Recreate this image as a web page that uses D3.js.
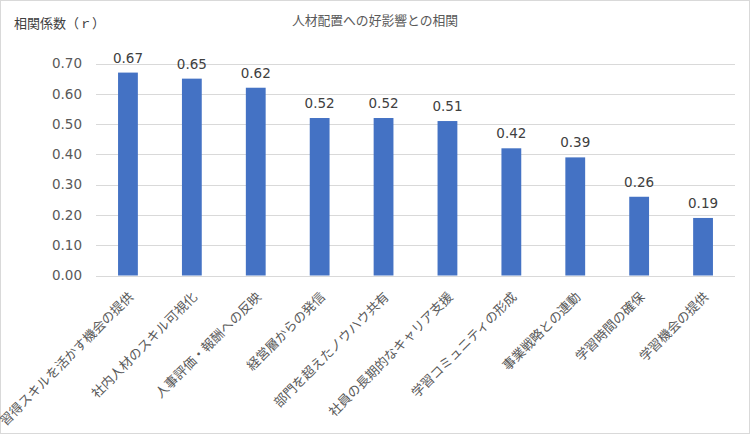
<!DOCTYPE html>
<html><head><meta charset="utf-8">
<script src="https://cdn.jsdelivr.net/npm/d3@7"></script>
<style>body{margin:0;background:#fff}svg{display:block}</style>
</head><body>
<script>
const categories = ["習得スキルを活かす機会の提供","社内人材のスキル可視化","人事評価・報酬への反映","経営層からの発信","部門を超えたノウハウ共有","社員の長期的なキャリア支援","学習コミュニティの形成","事業戦略との連動","学習時間の確保","学習機会の提供"];
const values = [0.67, 0.65, 0.62, 0.52, 0.52, 0.51, 0.42, 0.39, 0.26, 0.19];
const yTicks = [0, 0.1, 0.2, 0.3, 0.4, 0.5, 0.6, 0.7];
const title = "人材配置への好影響との相関";
const yTitle = "相関係数（ｒ）";

const W = 750, H = 434;
const font = "'Noto Sans CJK JP','Noto Sans',sans-serif";
const numFont = "'DejaVu Sans','Noto Sans',sans-serif";
const svg = d3.select("body").append("svg").attr("width", W).attr("height", H);
svg.append("rect").attr("x",0.5).attr("y",0.5).attr("width",W-1).attr("height",H-1)
  .attr("fill","#fff").attr("stroke","#d9d9d9");

const x = d3.scaleBand().domain(categories).range([96, 735]).paddingInner(0.69).paddingOuter(0.345);
const y = d3.scaleLinear().domain([0, 0.7]).range([275.5, 63.5]);

// gridlines
svg.append("g").selectAll("line").data(yTicks).join("line")
  .attr("x1", 96).attr("x2", 735)
  .attr("y1", d => Math.round(y(d)) + 0.5).attr("y2", d => Math.round(y(d)) + 0.5)
  .attr("stroke", "#d9d9d9").attr("stroke-width", 1);

// y axis labels
const yAxis = d3.axisLeft(y).tickValues(yTicks).tickFormat(d3.format(".2f")).tickSize(0).tickPadding(0);
const ya = svg.append("g").attr("transform", "translate(82,0)").call(yAxis);
ya.select(".domain").remove();
ya.selectAll("text").attr("font-family", numFont).attr("font-size", 13.5).attr("fill", "#595959");

// bars
svg.append("g").selectAll("rect").data(values).join("rect")
  .attr("x", (d,i) => x(categories[i])).attr("width", x.bandwidth())
  .attr("y", d => y(d)).attr("height", d => y(0) - y(d))
  .attr("fill", "#4472c4");

// value labels
svg.append("g").selectAll("text").data(values).join("text")
  .attr("x", (d,i) => x(categories[i]) + x.bandwidth()/2)
  .attr("y", d => y(d) - 10)
  .attr("text-anchor", "middle")
  .attr("font-family", numFont).attr("font-size", 13.5).attr("fill", "#404040")
  .text(d => d3.format(".2f")(d));

// x labels
const xAxis = d3.axisBottom(x).tickSize(0).tickPadding(0);
const xa = svg.append("g").attr("transform", "translate(0,275.5)").call(xAxis);
xa.select(".domain").remove();
xa.selectAll("text")
  .attr("font-family", font).attr("font-size", 13).attr("fill", "#595959")
  .attr("text-anchor", "end").attr("dy", "0.35em")
  .attr("transform", "translate(3,19) rotate(-45)");

// titles
svg.append("text").attr("x", 375).attr("y", 25).attr("text-anchor", "middle")
  .attr("font-family", font).attr("font-size", 12.8).attr("fill", "#595959").text(title);
svg.append("text").attr("x", 14).attr("y", 28)
  .attr("font-family", font).attr("font-size", 13).attr("fill", "#404040").text(yTitle);
</script>
</body></html>
